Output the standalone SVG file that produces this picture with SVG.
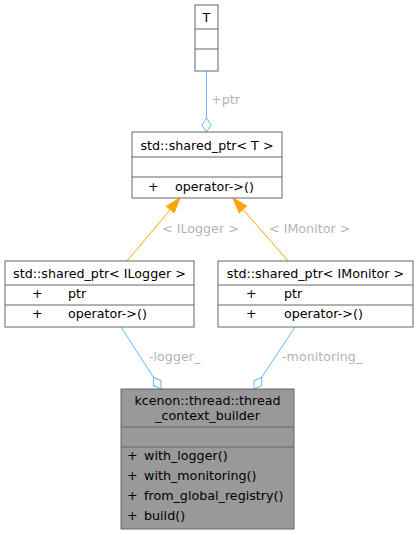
<svg xmlns="http://www.w3.org/2000/svg" width="419" height="535" viewBox="0 0 419 535">
<style>
text{font-family:"DejaVu Sans",sans-serif;font-size:12.7px;fill:#000}
.box{fill:#fff;stroke:#666;stroke-width:1}
.main{fill:#999;stroke:#666;stroke-width:1}
.sep{stroke:#666;stroke-width:1}
.lbl{fill:#b4b4b4}
.agg{fill:none;stroke:#63b8ff;stroke-width:1}
.inh{fill:none;stroke:#ffa500;stroke-width:1}
.c{text-anchor:middle}
</style>
<defs>
<marker id="dia" markerUnits="userSpaceOnUse" markerWidth="20" markerHeight="20" viewBox="-16 -8 20 16" refX="0" refY="0" orient="auto">
<path d="M0,0 L-7,-4.5 L-14,0 L-7,4.5 z" fill="#fff" stroke="#63b8ff" stroke-width="1"/>
</marker>
<marker id="tri" markerUnits="userSpaceOnUse" markerWidth="20" markerHeight="20" viewBox="-16 -8 20 16" refX="0" refY="0" orient="auto">
<path d="M0,0 L-15,-5 L-15,5 z" fill="#ffa500" stroke="#ffa500" stroke-width="1"/>
</marker>
</defs>
<rect width="419" height="535" fill="#fff"/>
<g id="connectors">
<path class="agg" d="M206.5,71 L206.5,132" marker-end="url(#dia)"/>
<text class="lbl" x="211" y="104">+ptr</text>
<path class="inh" d="M127,261 L180,198" marker-end="url(#tri)"/>
<text class="lbl" x="162" y="233">&lt; ILogger &gt;</text>
<path class="inh" d="M288,261 L233,198" marker-end="url(#tri)"/>
<text class="lbl" x="269" y="233">&lt; IMonitor &gt;</text>
<path class="agg" d="M121,327 L161,389" marker-end="url(#dia)"/>
<text class="lbl" x="149" y="361">-logger_</text>
<path class="agg" d="M295,327 L254,389" marker-end="url(#dia)"/>
<text class="lbl" x="282" y="361">-monitoring_</text>
</g>
<g id="node-T">
<rect class="box" x="195" y="5" width="23" height="66"/>
<line class="sep" x1="195" y1="29" x2="218" y2="29"/>
<line class="sep" x1="195" y1="49" x2="218" y2="49"/>
<text class="c" x="206.5" y="22">T</text>
</g>
<g id="node-shared_ptr_T">
<rect class="box" x="132" y="132" width="150" height="66"/>
<line class="sep" x1="132" y1="157" x2="282" y2="157"/>
<line class="sep" x1="132" y1="177" x2="282" y2="177"/>
<text class="c" x="207" y="150">std::shared_ptr&lt; T &gt;</text>
<text x="148" y="191">+</text>
<text x="175" y="191">operator-&gt;()</text>
</g>
<g id="node-shared_ptr_ILogger">
<rect class="box" x="5" y="261" width="189" height="66"/>
<line class="sep" x1="5" y1="285" x2="194" y2="285"/>
<line class="sep" x1="5" y1="305" x2="194" y2="305"/>
<text class="c" x="99.5" y="278">std::shared_ptr&lt; ILogger &gt;</text>
<text x="32" y="298">+</text>
<text x="68" y="298">ptr</text>
<text x="32" y="318">+</text>
<text x="68" y="318">operator-&gt;()</text>
</g>
<g id="node-shared_ptr_IMonitor">
<rect class="box" x="218" y="261" width="195" height="66"/>
<line class="sep" x1="218" y1="285" x2="413" y2="285"/>
<line class="sep" x1="218" y1="305" x2="413" y2="305"/>
<text class="c" x="315.5" y="278">std::shared_ptr&lt; IMonitor &gt;</text>
<text x="246" y="298">+</text>
<text x="284" y="298">ptr</text>
<text x="246" y="318">+</text>
<text x="284" y="318">operator-&gt;()</text>
</g>
<g id="node-thread_context_builder">
<rect class="main" x="121" y="389" width="173" height="140"/>
<line class="sep" x1="121" y1="427" x2="294" y2="427"/>
<line class="sep" x1="121" y1="447" x2="294" y2="447"/>
<text class="c" x="207.5" y="405">kcenon::thread::thread</text>
<text class="c" x="207.5" y="420">_context_builder</text>
<text x="127" y="460">+</text>
<text x="144" y="460">with_logger()</text>
<text x="127" y="480">+</text>
<text x="144" y="480">with_monitoring()</text>
<text x="127" y="500">+</text>
<text x="144" y="500">from_global_registry()</text>
<text x="127" y="520">+</text>
<text x="144" y="520">build()</text>
</g>
</svg>
